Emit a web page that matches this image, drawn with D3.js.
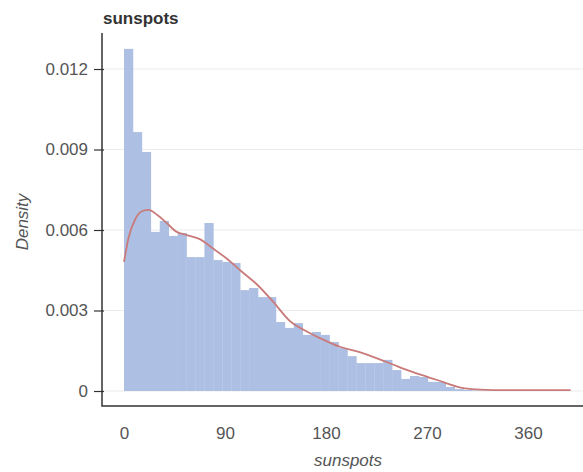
<!DOCTYPE html>
<html><head><meta charset="utf-8">
<script src="https://cdn.jsdelivr.net/npm/d3@7/dist/d3.min.js"></script>
<style>
body{margin:0;background:#fff;}
svg{display:block;font-family:"Liberation Sans",Arial,sans-serif;}
</style></head>
<body><svg id="c" width="583" height="472"></svg>
<script>
// Histogram: 50 bins from 0 to 398.2 (sunspots), density values
const binStart = 0;
const binEnd = 398.2;
const binDensity = [0.01275,0.00965,0.00891,0.00593,0.00634,0.00578,0.00589,0.00499,0.00499,0.00626,
0.00488,0.00481,0.00477,0.00376,0.00384,0.00350,0.00350,0.00257,0.00235,0.00253,
0.00209,0.00220,0.00209,0.00183,0.00160,0.00130,0.00104,0.00104,0.00104,0.00116,
0.00078,0.00045,0.00056,0.00052,0.00034,0.00034,0.00015,0.00007,0.00004,0.00002,
0.00001,0.00001,0,0,0,0,0,0,0,0];
// Kernel density curve
const kdeX = [0,4,10,16,22,30,38,47,56,68,79,92,104,119,133,148,160,175,193,210,234,257,279,300,318,340,370,398];
const kdeY = [0.00481,0.0057,0.0064,0.0067,0.00675,0.00655,0.00626,0.00593,0.00581,0.00565,0.00532,0.00492,0.00448,0.00395,0.00332,0.0026,0.00228,0.00196,0.00164,0.00145,0.00108,0.00071,0.00041,0.00013,0.00005,0.00003,0.00003,0.00003];
const xTicks = [0,90,180,270,360];
const yTicks = [0,0.003,0.006,0.009,0.012];
const title = "sunspots";
const xLabel = "sunspots";
const yLabel = "Density";

const svg = d3.select("#c");
const x = d3.scaleLinear().domain([0,360]).range([124,528]);
const y = d3.scaleLinear().domain([0,0.012]).range([391,69]);
const axisX = 102, axisBottom = 406, axisTop = 33, rightEdge = 583;

// gridlines
svg.append("g").selectAll("line").data(yTicks).join("line")
  .attr("x1",axisX).attr("x2",rightEdge)
  .attr("y1",d=>y(d)).attr("y2",d=>y(d))
  .attr("stroke","#ebebeb").attr("stroke-width",1);

// bars
const bw = (binEnd-binStart)/binDensity.length;
svg.append("g").selectAll("rect").data(binDensity).join("rect")
  .attr("x",(d,i)=>x(binStart+i*bw))
  .attr("width",(d,i)=>x(binStart+(i+1)*bw)-x(binStart+i*bw)+0.3)
  .attr("y",d=>y(d))
  .attr("height",d=>y(0)-y(d))
  .attr("fill","#adc0e3");

// kde line
const line = d3.line().x(d=>x(d[0])).y(d=>y(d[1])).curve(d3.curveMonotoneX);
svg.append("path").datum(kdeX.map((v,i)=>[v,kdeY[i]]))
  .attr("d",line).attr("fill","none").attr("stroke","#c97b7b").attr("stroke-width",1.8);

// y axis
const ya = svg.append("g").attr("transform",`translate(${axisX},0)`)
  .call(d3.axisLeft(y).tickValues(yTicks).tickSize(8).tickPadding(6)
    .tickFormat(d=>d===0?"0":d3.format(".3f")(d)));
ya.select(".domain").remove();
ya.selectAll(".tick line").attr("x2",-8).attr("x1",2).attr("stroke","#333").attr("stroke-width",1.2);
ya.selectAll(".tick text").attr("font-size",17).attr("fill","#555").attr("font-family","Liberation Sans, Arial, sans-serif");

// x axis
const xa = svg.append("g").attr("transform",`translate(0,${axisBottom})`)
  .call(d3.axisBottom(x).tickValues(xTicks).tickSize(0).tickPadding(21).tickFormat(d3.format("d")));
xa.select(".domain").remove();
xa.selectAll(".tick text").attr("font-size",17).attr("fill","#555").attr("font-family","Liberation Sans, Arial, sans-serif");

// axis lines
svg.append("path").attr("d",`M${axisX},${axisTop}V${axisBottom}H${rightEdge}`)
  .attr("fill","none").attr("stroke","#333").attr("stroke-width",1.5);

// title and labels
svg.append("text").attr("x",103).attr("y",24).text(title)
  .attr("font-size",17).attr("font-weight","bold").attr("fill","#333");
svg.append("text").attr("x",348).attr("y",466).attr("text-anchor","middle")
  .attr("font-size",17).attr("font-style","italic").attr("fill","#555").text(xLabel);
svg.append("text").attr("transform","translate(28,222) rotate(-90)").attr("text-anchor","middle")
  .attr("font-size",17).attr("font-style","italic").attr("fill","#555").text(yLabel);
</script></body></html>
